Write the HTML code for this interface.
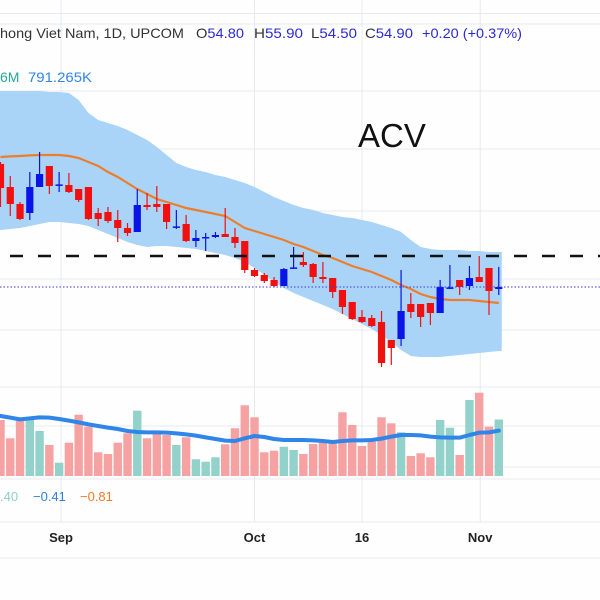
<!DOCTYPE html>
<html><head><meta charset="utf-8"><style>
html,body{margin:0;padding:0;background:#fff;width:600px;height:600px;overflow:hidden}
svg{display:block;font-family:"Liberation Sans",sans-serif}
</style></head><body>
<svg id="chart" width="600" height="600" viewBox="0 0 600 600">
<rect x="0" y="0" width="600" height="600" fill="#fefefe"/>
<g id="grid"></g>
<g id="band"></g>
<g id="vol"></g>
<g id="candles"></g>
<line x1="10" y1="256" x2="600" y2="256" stroke="#111" stroke-width="2.5" stroke-dasharray="13 15"/>
<g font-size="14">
<text x="0" y="38" fill="#333" textLength="184" lengthAdjust="spacingAndGlyphs">hong Viet Nam, 1D, UPCOM</text>
<text x="196" y="38" textLength="48" lengthAdjust="spacingAndGlyphs"><tspan fill="#333">O</tspan><tspan fill="#2b2bd0">54.80</tspan></text>
<text x="254" y="38" textLength="49" lengthAdjust="spacingAndGlyphs"><tspan fill="#333">H</tspan><tspan fill="#2b2bd0">55.90</tspan></text>
<text x="311" y="38" textLength="46" lengthAdjust="spacingAndGlyphs"><tspan fill="#333">L</tspan><tspan fill="#2b2bd0">54.50</tspan></text>
<text x="365" y="38" textLength="48" lengthAdjust="spacingAndGlyphs"><tspan fill="#333">C</tspan><tspan fill="#2b2bd0">54.90</tspan></text>
<text x="422" y="38" fill="#2b2bd0" textLength="100" lengthAdjust="spacingAndGlyphs">+0.20 (+0.37%)</text>
</g>
<text x="0" y="82" font-size="14" fill="#26a69a">6M</text>
<text x="28" y="82" font-size="14" fill="#2f86e8" textLength="64" lengthAdjust="spacingAndGlyphs">791.265K</text>
<text x="358" y="147" font-size="33" fill="#111">ACV</text>
<text x="0" y="501" font-size="13"><tspan fill="#8fd0c8">.40</tspan><tspan fill="#2f7fe0" x="33">−0.41</tspan><tspan fill="#f07a2a" x="80">−0.81</tspan></text>
<g id="xaxis"></g>
</svg>
<script>
const opens=[61.05,59.9,59.05,58.6,59.9,60.95,59.98,60.0,59.8,59.9,58.6,58.65,58.25,57.85,57.65,59.0,59.05,59.05,57.88,58.05,57.2,57.35,57.4,57.55,57.4,57.2,55.75,55.5,55.25,54.95,55.83,56.15,56.05,55.4,55.35,54.75,54.15,53.4,53.35,53.15,52.25,52.3,54.05,54.05,54.1,53.6,54.82,55.25,54.95,55.4,55.85,54.8];
const highs=[61.15,60.45,59.15,60.65,61.65,60.95,60.65,60.6,59.8,59.9,58.85,58.9,58.75,58.1,59.8,59.6,59.95,59.05,58.75,58.5,57.75,57.6,57.65,58.85,57.85,57.2,55.85,55.6,55.4,55.85,56.9,56.65,56.1,56.15,55.35,54.75,54.15,53.75,53.5,53.7,52.25,55.75,54.6,54.05,54.1,55.25,56.0,55.25,55.95,56.45,55.85,55.9];
const lows=[58.9,58.45,58.25,58.25,59.9,59.55,59.65,59.6,59.15,58.25,57.95,58.1,57.15,57.45,57.65,58.75,58.65,57.8,57.8,57.15,56.9,56.7,57.35,57.4,56.85,55.6,55.4,55.1,54.9,54.95,55.8,55.9,55.1,55.1,54.35,53.55,53.25,53.1,52.9,50.9,51.0,51.95,53.35,52.9,53.0,53.6,54.8,54.5,54.75,55.15,53.5,54.5];
const closes=[59.85,59.05,58.3,59.9,60.55,59.95,60.03,59.65,59.25,58.3,58.3,58.2,57.85,57.6,59.0,58.9,58.9,58.15,57.93,57.2,57.35,57.4,57.5,57.4,57.1,55.75,55.45,55.2,54.95,55.8,55.88,56.0,55.4,55.3,54.65,53.9,53.3,53.15,52.95,51.1,51.85,53.7,53.65,53.4,53.6,54.9,54.88,54.9,55.35,55.15,54.7,54.9];
const maValues=[61.40,61.43,61.45,61.48,61.50,61.50,61.50,61.45,61.35,61.15,60.95,60.65,60.40,60.10,59.80,59.55,59.30,59.15,59.00,58.85,58.75,58.65,58.55,58.45,58.15,57.85,57.70,57.55,57.40,57.25,57.05,56.90,56.70,56.50,56.35,56.15,55.95,55.80,55.65,55.45,55.25,55.00,54.80,54.55,54.40,54.30,54.25,54.25,54.25,54.20,54.15,54.10];
const bbUpper=[64.70,64.70,64.70,64.70,64.70,64.65,64.65,64.60,64.25,63.60,63.25,63.10,62.95,62.75,62.50,62.25,61.90,61.50,61.10,60.90,60.75,60.65,60.50,60.40,60.25,60.10,59.90,59.65,59.40,59.20,59.00,58.85,58.75,58.60,58.50,58.40,58.35,58.25,58.15,58.00,57.85,57.65,57.25,56.90,56.80,56.75,56.75,56.75,56.70,56.70,56.65,56.65];
const bbLower=[57.75,57.80,57.85,57.95,58.05,58.15,58.15,58.10,58.05,57.95,57.75,57.55,57.35,57.15,57.00,56.90,56.95,56.95,56.90,56.85,56.80,56.70,56.60,56.50,56.35,56.15,55.85,55.50,55.15,54.85,54.60,54.40,54.20,54.00,53.80,53.55,53.30,53.05,52.80,52.50,52.15,51.75,51.45,51.40,51.40,51.40,51.45,51.50,51.55,51.60,51.65,51.70];
const volumes=[784,528,784,784,630,434,186,466,858,690,332,308,466,598,914,528,598,574,434,542,234,200,262,444,668,990,822,332,354,410,364,308,448,466,480,892,714,420,480,822,738,612,280,318,262,784,676,294,1064,1166,690,791];
const volMA=[840,817,793,807,821,817,798,775,751,723,700,677,658,630,616,611,611,607,597,583,565,541,518,495,490,527,560,546,518,504,504,504,499,490,476,490,499,499,504,523,551,574,574,569,551,541,537,537,574,607,611,635];
const xLabels=["Sep","Oct","16","Nov"];
const xLabelIdx=[6.2,26,37,49.1];

const NS="http://www.w3.org/2000/svg";
function mk(tag,attrs,parent){const e=document.createElementNS(NS,tag);for(const k in attrs)e.setAttribute(k,attrs[k]);parent.appendChild(e);return e;}
const xOf=i=>0.5+i*9.77;
const yP=p=>287-(p-54.9)*20;
const yV=v=>476-v/14;

const grid=document.getElementById('grid');
[13.5,24,91,149,211,279,330,387,426,467,479,522,558].forEach(y=>{
  const l=mk('line',{x1:0,x2:600,y1:y,y2:y,stroke:'#e6eaee','stroke-width':1},grid);
  
  
});
xLabelIdx.forEach(i=>{
  const l=mk('line',{x1:xOf(i),x2:xOf(i),y1:0,y2:522,stroke:'#e6eaee','stroke-width':1},grid);
  
  
});

const band=document.getElementById('band');
const n=opens.length;
let d='M0,'+yP(bbUpper[0]);
for(let i=0;i<n;i++)d+=' L'+xOf(i)+','+yP(bbUpper[i]);
d+=' L'+(xOf(n-1)+3)+','+yP(bbUpper[n-1])+' L'+(xOf(n-1)+3)+','+yP(bbLower[n-1]);
for(let i=n-1;i>=0;i--)d+=' L'+xOf(i)+','+yP(bbLower[i]);
d+=' L0,'+yP(bbLower[0])+' Z';
const bp=mk('path',{d:d,fill:'#a9d4f8'},band);


let md='';
for(let i=0;i<n;i++)md+=(i?' L':'M')+xOf(i)+','+yP(maValues[i]);
const ma=mk('path',{d:md,fill:'none',stroke:'#ee7d2b','stroke-width':2.2},band);



const vol=document.getElementById('vol');
for(let i=0;i<n;i++){
  const up=closes[i]>=opens[i];
  const h=476-yV(volumes[i]);
  const r=mk('rect',{x:xOf(i)-4.2,y:yV(volumes[i]),width:8.4,height:h,fill:up?'#92d2ca':'#f7a2a2'},vol);
  
  
}
let vd='';
for(let i=0;i<n;i++)vd+=(i?' L':'M')+xOf(i)+','+yV(volMA[i]);
const vm=mk('path',{d:vd,fill:'none',stroke:'#2f86e8','stroke-width':4,'stroke-linecap':'round','stroke-linejoin':'round'},vol);



const cg=document.getElementById('candles');
for(let i=0;i<n;i++){
  const up=closes[i]>=opens[i];
  const col=up?'#0a14e6':'#f01010';
  const x=xOf(i);
  const w=mk('line',{x1:x,x2:x,y1:yP(highs[i]),y2:yP(lows[i]),stroke:col,'stroke-width':1.2},cg);
  
  
  const top=yP(Math.max(opens[i],closes[i])),bot=yP(Math.min(opens[i],closes[i]));
  const b=mk('rect',{x:x-3.6,y:top,width:7.2,height:Math.max(1.5,bot-top),fill:col},cg);
  
  
}
const last=mk('line',{x1:0,x2:600,y1:yP(closes[n-1]),y2:yP(closes[n-1]),stroke:'#3b3bd8','stroke-width':1,'stroke-dasharray':'1.5 2'},cg);



const xa=document.getElementById('xaxis');
xLabels.forEach((t,k)=>{
  const e=mk('text',{x:xOf(xLabelIdx[k]),y:542,'font-size':13,'font-weight':'bold',fill:'#222','text-anchor':'middle'},xa);
  e.textContent=t;
  
  
});
</script>
</body></html>
